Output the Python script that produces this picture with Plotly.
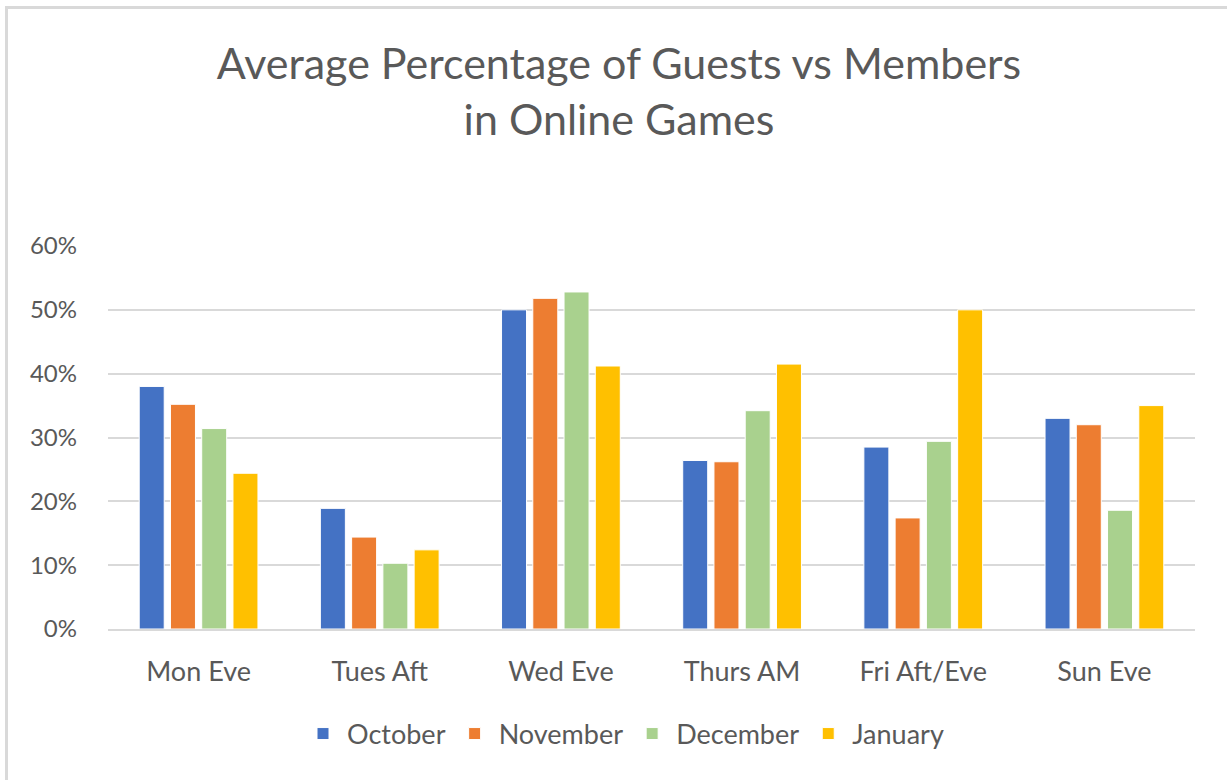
import plotly.graph_objects as go

categories = ["Mon Eve", "Tues Aft", "Wed Eve", "Thurs AM", "Fri Aft/Eve", "Sun Eve"]
october = [0.380, 0.189, 0.500, 0.264, 0.285, 0.330]
november = [0.352, 0.144, 0.518, 0.262, 0.174, 0.320]
december = [0.314, 0.103, 0.528, 0.342, 0.294, 0.186]
january = [0.244, 0.124, 0.412, 0.415, 0.500, 0.350]
series_names = ["October", "November", "December", "January"]
series_values = [october, november, december, january]
series_colors = ["#4472C4", "#ED7D31", "#A9D18E", "#FFC000"]
y_ticks = [0, 0.1, 0.2, 0.3, 0.4, 0.5, 0.6]
y_tick_labels = ["0%", "10%", "20%", "30%", "40%", "50%", "60%"]

W, H = 1227, 780
ML, MR, MT, MB = 108, 32, 246, 151

fig = go.Figure()
for name, vals, col in zip(series_names, series_values, series_colors):
    fig.add_trace(go.Bar(
        x=categories, y=vals, name=name,
        marker=dict(color=col, line=dict(color="white", width=1)),
    ))

font_family = "Lato, 'Open Sans', sans-serif"
gray = "#595959"

pw = W - ML - MR
ph = H - MT - MB
def px_to_paper_x(px):
    return (px - ML) / pw
def px_to_paper_y(py):
    return (H - MB - py) / ph

fig.update_layout(
    width=W, height=H,
    margin=dict(l=ML, r=MR, t=MT, b=MB, autoexpand=False),
    paper_bgcolor="white", plot_bgcolor="white",
    barmode="group", bargap=0.31, bargroupgap=0.2,
    title=dict(
        text="Average Percentage of Guests vs Members<br>in Online Games",
        x=619 / W, xanchor="center", xref="container",
        y=1 - 79 / H, yanchor="middle", yref="container",
        font=dict(family=font_family, size=43, color=gray),
    ),
    font=dict(family=font_family, color=gray),
    xaxis=dict(
        showgrid=False, zeroline=False, showline=True,
        linecolor="#D9D9D9", linewidth=2,
        ticks="", tickfont=dict(size=27, color=gray),
        ticklabelstandoff=18, tickangle=0,
    ),
    yaxis=dict(
        range=[0, 0.6], tickvals=y_ticks, ticktext=y_tick_labels,
        showgrid=True, gridcolor="#D9D9D9", gridwidth=2,
        zeroline=False, showline=False, ticks="",
        tickfont=dict(size=24, color=gray),
        ticklabelstandoff=30,
    ),
    legend=dict(
        orientation="h", x=px_to_paper_x(624), xanchor="center",
        y=px_to_paper_y(734), yanchor="middle",
        font=dict(size=27, color=gray),
        itemwidth=38, traceorder="normal",
    ),
    shapes=[
        dict(type="line", xref="paper", yref="paper",
             x0=px_to_paper_x(5), x1=px_to_paper_x(W + 5),
             y0=px_to_paper_y(7.5), y1=px_to_paper_y(7.5),
             line=dict(color="#D9D9D9", width=3)),
        dict(type="line", xref="paper", yref="paper",
             x0=px_to_paper_x(6.5), x1=px_to_paper_x(6.5),
             y0=px_to_paper_y(6), y1=px_to_paper_y(H + 5),
             line=dict(color="#D9D9D9", width=3)),
    ],
)

fig.write_html("out.html", config={"displayModeBar": False},
               post_script="document.body.style.margin='0';")
